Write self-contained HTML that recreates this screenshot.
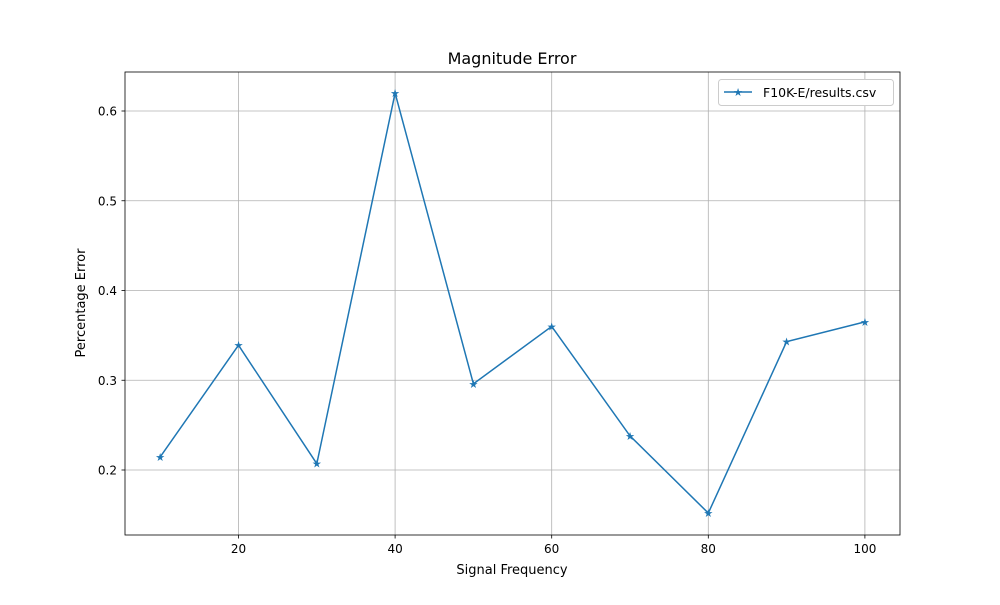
<!DOCTYPE html>
<html><head><meta charset="utf-8"><style>
body{margin:0;background:#fff;font-family:"Liberation Sans","DejaVu Sans",sans-serif;}
svg text{font-family:"DejaVu Sans","Liberation Sans",sans-serif;}
</style></head><body>
<svg id="chart" width="1000" height="600" xmlns="http://www.w3.org/2000/svg">
<rect width="1000" height="600" fill="#fff"/>
<g id="grid"></g>
<g id="ticks"></g>
<rect x="125" y="72" width="775" height="463" fill="none" stroke="#000" stroke-width="0.8"/>
<g id="series"></g>
<text x="512" y="64" font-size="16" text-anchor="middle">Magnitude Error</text>
<text x="512" y="574" font-size="13" text-anchor="middle">Signal Frequency</text>
<text transform="translate(85,303) rotate(-90)" font-size="13" text-anchor="middle">Percentage Error</text>
<g>
<rect x="718.5" y="79.5" width="175" height="26" rx="3" fill="#fff" stroke="#ccc" stroke-width="1"/>
<line x1="724" y1="92" x2="752" y2="92" stroke="#1f77b4" stroke-width="1.5"/>
<text x="738" y="96" font-size="11" fill="#1f77b4" text-anchor="middle">★</text>
<text x="763" y="97" font-size="12.5">F10K-E/results.csv</text>
</g>
</svg>
<script>
const freqs=[10,20,30,40,50,60,70,80,90,100];
const errors=[0.2145,0.339,0.207,0.620,0.296,0.360,0.238,0.152,0.343,0.365];
const xTicks=[20,40,60,80,100];
const yTicks=[0.2,0.3,0.4,0.5,0.6];
const NS="http://www.w3.org/2000/svg";
const xs=v=>238.5+(v-20)*7.83;
const ys=v=>470-(v-0.2)*897.5;
const grid=document.getElementById('grid'),ticks=document.getElementById('ticks'),ser=document.getElementById('series');
function mk(t,a,p){const e=document.createElementNS(NS,t);for(const k in a)e.setAttribute(k,a[k]);p.appendChild(e);return e;}
xTicks.forEach(t=>{const x=xs(t);
const g=mk('line',{x1:x,x2:x,y1:72,y2:535,stroke:'#b0b0b0','stroke-width':0.8},grid);


mk('line',{x1:x,x2:x,y1:535,y2:538.5,stroke:'#000','stroke-width':0.8},ticks);
const l=mk('text',{x:x,y:553,'font-size':12,'text-anchor':'middle'},ticks);l.textContent=t;

});
yTicks.forEach(t=>{const y=ys(t);
const g=mk('line',{x1:125,x2:900,y1:y,y2:y,stroke:'#b0b0b0','stroke-width':0.8},grid);


mk('line',{x1:121.5,x2:125,y1:y,y2:y,stroke:'#000','stroke-width':0.8},ticks);
const l=mk('text',{x:117,y:y+4.5,'font-size':12,'text-anchor':'end'},ticks);l.textContent=t.toFixed(1);

});
const pl=mk('polyline',{points:freqs.map((f,i)=>xs(f)+','+ys(errors[i])).join(' '),fill:'none',stroke:'#1f77b4','stroke-width':1.5},ser);


freqs.forEach((f,i)=>{const m=mk('text',{x:xs(f),y:ys(errors[i])+4,'font-size':11,fill:'#1f77b4','text-anchor':'middle'},ser);m.textContent='★';

});
</script>
</body></html>
